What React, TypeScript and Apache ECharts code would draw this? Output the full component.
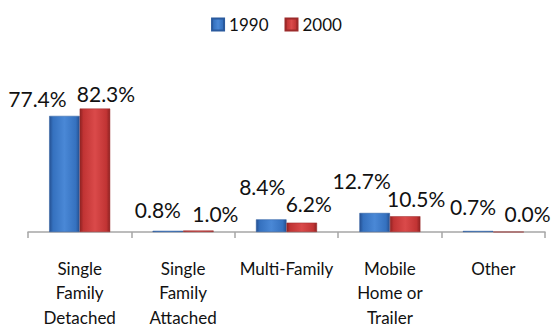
import React, { useEffect, useRef } from "react";
import * as echarts from "echarts";

// Housing type shares, 1990 vs 2000 (percent)
const categories = [
  "Single\nFamily\nDetached",
  "Single\nFamily\nAttached",
  "Multi-Family",
  "Mobile\nHome or\nTrailer",
  "Other",
];
const seriesNames = ["1990", "2000"];
const values1990 = [77.4, 0.8, 8.4, 12.7, 0.7];
const values2000 = [82.3, 1.0, 6.2, 10.5, 0.0];

// Hand-placed value labels: [dx, dy] nudges from the bar top
const labelNudge1990: [number, number][] = [
  [-27, -7],
  [-10, -11],
  [-9, -22],
  [-13, -22],
  [-5, -14],
];
const labelNudge2000: [number, number][] = [
  [11, -5],
  [17, -7],
  [7, -9],
  [11, -7],
  [19, -8],
];

const FONT = "Lato, 'Open Sans', sans-serif";

function bevel(dark: string, mid: string, light: string) {
  return new echarts.graphic.LinearGradient(0, 0, 1, 0, [
    { offset: 0, color: dark },
    { offset: 0.12, color: mid },
    { offset: 0.5, color: light },
    { offset: 0.88, color: mid },
    { offset: 1, color: dark },
  ]);
}

function buildData(values: number[], nudges: [number, number][]) {
  return values.map((v, i) => ({
    value: v,
    label: { offset: nudges[i] },
  }));
}

export default function App() {
  const ref = useRef<HTMLDivElement>(null);

  useEffect(() => {
    if (!ref.current) return;
    const chart = echarts.init(ref.current, undefined, { renderer: "svg" });
    const labelStyle = {
      show: true,
      position: "top" as const,
      distance: 0,
      fontFamily: FONT,
      fontSize: 21,
      color: "#111",
      formatter: (p: any) => `${Number(p.value).toFixed(1)}%`,
    };
    chart.setOption({
      animation: false,
      backgroundColor: "#ffffff",
      legend: {
        data: seriesNames,
        left: "center",
        top: 11,
        itemWidth: 12,
        itemHeight: 12,
        itemGap: 16,
        icon: "rect",
        textStyle: { fontFamily: FONT, fontSize: 17, color: "#111" },
      },
      grid: {
        left: 28,
        right: 8,
        top: 82,
        bottom: 97,
        containLabel: false,
        outerBoundsMode: "none",
      },
      xAxis: {
        type: "category",
        data: categories,
        boundaryGap: true,
        axisLine: { lineStyle: { color: "#a6a6a6", width: 1.5 } },
        axisTick: { show: true, length: 6, lineStyle: { color: "#a6a6a6", width: 1.5 } },
        axisLabel: {
          interval: 0,
          margin: 24,
          fontFamily: FONT,
          fontSize: 17,
          lineHeight: 24.5,
          color: "#111",
          verticalAlign: "top",
        },
      },
      yAxis: {
        type: "value",
        min: 0,
        max: 100,
        show: false,
      },
      series: [
        {
          name: seriesNames[0],
          type: "bar",
          barGap: "0%",
          barCategoryGap: "41%",
          data: buildData(values1990, labelNudge1990),
          itemStyle: {
            color: bevel("#245091", "#3571bf", "#4a88d6"),
            borderColor: "#2a5a9e",
            borderWidth: 0.5,
          },
          label: labelStyle,
        },
        {
          name: seriesNames[1],
          type: "bar",
          data: buildData(values2000, labelNudge2000),
          itemStyle: {
            color: bevel("#8f2222", "#c13434", "#da4a4a"),
            borderColor: "#9c2a2a",
            borderWidth: 0.5,
          },
          label: labelStyle,
        },
      ],
    });
    return () => chart.dispose();
  }, []);

  return (
    <div
      ref={ref}
      style={{ position: "fixed", left: 0, top: 0, width: 553, height: 329 }}
    />
  );
}
